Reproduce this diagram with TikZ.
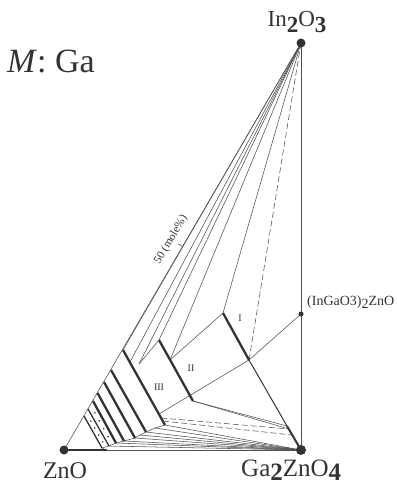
\documentclass[tikz,border=0pt]{standalone}
\usepackage{fontspec}
\setmainfont{Liberation Serif}
\usetikzlibrary{calc}
\definecolor{ink}{HTML}{333333}
\definecolor{lineink}{HTML}{505050}
\begin{document}
\begin{tikzpicture}[x=1pt,y=-1pt,
  tie/.style={line width=0.55pt, draw=lineink},
  tiedash/.style={tie, dash pattern=on 6pt off 3pt},
  phase/.style={line width=2.3pt, draw=ink},
  midphase/.style={line width=1.3pt, draw=ink},
  bigdot/.style={circle, fill=ink, inner sep=0pt, minimum size=9pt},
  smalldot/.style={circle, fill=ink, inner sep=0pt, minimum size=5pt},
  speck/.style={circle, fill=ink, inner sep=0pt, minimum size=1.8pt},
  lbl/.style={text=ink, inner sep=0pt},
]
\useasboundingbox (0,0) rectangle (396,486);

% corner compounds
\coordinate (In) at (301,43);
\coordinate (Zn) at (64,450);
\coordinate (Ga) at (301,450);
\coordinate (P) at (301,314);
\coordinate (Zt) at (107,450);

% thick phase lines (solid solutions)
\coordinate (At) at (123,350);  \coordinate (Ab) at (165,425);
\coordinate (Bt) at (111,370);  \coordinate (Bb) at (146,432);
\coordinate (Ct) at (104,382);  \coordinate (Cb) at (135,438);
\coordinate (Dt) at (97.5,393); \coordinate (Db) at (124,441);
\coordinate (Et) at (93,401);   \coordinate (Eb) at (116,443);
\coordinate (Ft) at (88,409);   \coordinate (Fb) at (109,446);
\coordinate (Gt) at (84,416);   \coordinate (Gb) at (102,448);
\coordinate (IIt) at (159,340); \coordinate (IIb) at (193,401);
\coordinate (It) at (223,313);  \coordinate (Ib) at (249,360);

% auxiliary points
\coordinate (P1a) at (130,362);
\coordinate (P1b) at (139,364);
\coordinate (P2) at (170,360);
\coordinate (Q) at (159,414);
\coordinate (Da) at (161,418);
\coordinate (Dc) at (163,421);
\coordinate (K) at (287,426);
\coordinate (K2) at (289,429);
\coordinate (K3) at (292,435);
\coordinate (M1) at (155,428);
\coordinate (M2) at (140,435);
\coordinate (GFt) at (86,412.5);  \coordinate (GFb) at (105.5,447);
\coordinate (FEt) at (90.5,405);  \coordinate (FEb) at (112.5,444.5);
\coordinate (tickA) at (182.5,246.5);
\coordinate (tickB) at (178,243.8);

% triangle edges
\draw[tie] (Zn) -- (In);
\draw[tie] (In) -- (Ga);
\draw[phase, line width=1.8pt] (Zn) -- (Zt);
\draw[tie] (Zt) -- (Ga);

% tie lines from In2O3
\draw[tie] (In) -- (At);
\draw[tie] (In) -- (P1a);
\draw[tie] (In) -- (P1b);
\draw[tie] (In) -- (IIt);
\draw[tie] (In) -- (P2);
\draw[tie] (In) -- (It);
\draw[tiedash] (In) -- (Ib);

% inner tie lines
\draw[tie] (P1b) -- (IIt);
\draw[tie] (P2) -- (It);
\draw[tie] (Ib) -- (P);
\draw[tie] (Ib) -- (Q);
\draw[midphase, line width=1pt] (Ib) -- (K);
\draw[phase, line width=2pt] (K) -- (Ga);
\draw[tie] (IIb) -- (K);
\draw[tie] (IIb) -- (K2);
\draw[tiedash] (Da) -- (K2);
\draw[tiedash] (Dc) -- (K3);

% tie lines to Ga2ZnO4
\foreach \p in {Ab,M1,Bb,M2,Cb,Db,Eb,Fb}
  \draw[tie] (\p) -- (Ga);
\draw[tie] (Ab) -- (M1) -- (Bb) -- (M2) -- (Cb) -- (Db) -- (Eb) -- (Fb) -- (Gb) -- (Zt);

% phase lines
\draw[phase] (At) -- (Ab);
\draw[phase] (Bt) -- (Bb);
\draw[phase] (Ct) -- (Cb);
\draw[phase] (Dt) -- (Db);
\draw[phase] (Et) -- (Eb);
\draw[midphase] (Ft) -- (Fb);
\draw[midphase] (Gt) -- (Gb);
\draw[phase] (IIt) -- (IIb);
\draw[phase] (It) -- (Ib);

% dotted fill between the last lines
\foreach \a in {0.25,0.45,0.65,0.85}
  \node[speck] at ($(GFt)!\a!(GFb)$) {};
\foreach \a in {0.2,0.4,0.6,0.8}
  \node[speck] at ($(FEt)!\a!(FEb)$) {};

% compound dots
\node[bigdot] (In2O3) at (In) {};
\node[bigdot] (ZnO) at (Zn) {};
\node[bigdot, minimum size=10pt] (Ga2ZnO4) at (Ga) {};
\node[smalldot] (InGaO3ZnO) at (P) {};

% labels
\node[lbl, font=\fontsize{34}{34}\selectfont, anchor=base west] (title) at (7,73) {\textit{M}: Ga};
\node[lbl, font=\fontsize{23}{23}\selectfont, anchor=base] (lIn) at (297,27)
  {In\raisebox{-0.22em}{\textbf{2}}O\raisebox{-0.22em}{\textbf{3}}};
\node[lbl, font=\fontsize{24}{24}\selectfont, anchor=base] (lZn) at (65,478) {ZnO};
\node[lbl, font=\fontsize{25}{25}\selectfont, anchor=base west] (lGa) at (241,476)
  {Ga\raisebox{-0.18em}{\textbf{2}}ZnO\raisebox{-0.18em}{\textbf{4}}};
\node[lbl, font=\fontsize{14}{14}\selectfont, anchor=base west] (lP) at (307,305)
  {(InGaO3)\raisebox{-0.25em}{2}ZnO};
\node[lbl, font=\fontsize{11.5}{11.5}\selectfont, rotate=59.8] (lmole) at (171,239.7) {50 (mole\%)};
\draw[tie] (tickA) -- (tickB);
\node[lbl, font=\fontsize{10}{10}\selectfont] (lI) at (240,318) {I};
\node[lbl, font=\fontsize{10}{10}\selectfont] (lII) at (191,368) {II};
\node[lbl, font=\fontsize{10}{10}\selectfont] (lIII) at (159,387) {III};
\end{tikzpicture}
\end{document}
